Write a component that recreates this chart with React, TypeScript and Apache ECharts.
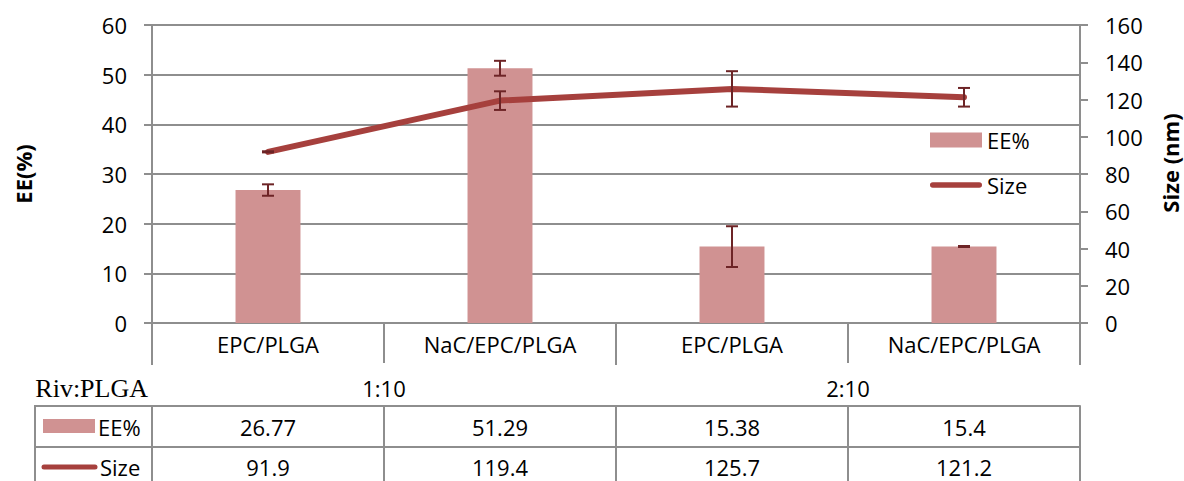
import React, { useEffect, useRef } from "react";
import * as echarts from "echarts";

const categories = ["EPC/PLGA", "NaC/EPC/PLGA", "EPC/PLGA", "NaC/EPC/PLGA"];
const groups = ["1:10", "2:10"];
const eeValues = [26.77, 51.29, 15.38, 15.4];
const eeErrors = [1.15, 1.5, 4.1, 0.1];
const sizeValues = [91.9, 119.4, 125.7, 121.2];
const sizeErrors = [0.3, 5.0, 9.5, 5.0];
const eeTableLabels = ["26.77", "51.29", "15.38", "15.4"];
const sizeTableLabels = ["91.9", "119.4", "125.7", "121.2"];

const FONT = "'Open Sans', sans-serif";
const BAR = "#d09292";
const LINE = "#a6403d";
const ERR = "#6d2426";
const GRID = "#8e8e8e";

function errorRender(params: any, api: any) {
  const i = api.value(0);
  const v = api.value(1);
  const e = api.value(2);
  const hi = api.coord([i, v + e]);
  const lo = api.coord([i, v - e]);
  const w = 6;
  const style = { stroke: ERR, lineWidth: 2 };
  return {
    type: "group",
    children: [
      { type: "line", shape: { x1: hi[0], y1: hi[1], x2: lo[0], y2: lo[1] }, style },
      { type: "line", shape: { x1: hi[0] - w, y1: hi[1], x2: hi[0] + w, y2: hi[1] }, style },
      { type: "line", shape: { x1: lo[0] - w, y1: lo[1], x2: lo[0] + w, y2: lo[1] }, style },
    ],
  };
}

export default function App() {
  const ref = useRef<HTMLDivElement>(null);
  useEffect(() => {
    if (!ref.current) return;
    const chart = echarts.init(ref.current, undefined, { renderer: "svg" });
    const axisLineStyle = { color: GRID, width: 2 };
    const labelBase = { fontSize: 22, color: "#000", fontFamily: FONT };
    chart.setOption({
      animation: false,
      backgroundColor: "#fff",
      grid: { left: 152, right: 104, top: 25, bottom: 158, containLabel: false, outerBoundsMode: "none" },
      legend: {
        data: [
          { name: "EE%", icon: "rect" },
          { name: "Size", icon: "path://M3,0 H53 A3,3 0 0 1 53,6 H3 A3,3 0 0 1 3,0 Z" },
        ],
        orient: "vertical",
        left: 925,
        top: 124,
        itemWidth: 52,
        itemHeight: 15,
        itemGap: 23,
        itemTextGap: 5,
        textStyle: { ...labelBase },
      },
      xAxis: [
        {
          type: "category",
          data: categories,
          position: "bottom",
          axisLine: { show: true, lineStyle: axisLineStyle },
          axisTick: { show: true, interval: 0, length: 40, lineStyle: axisLineStyle },
          axisLabel: { ...labelBase, interval: 0, margin: 10 },
          splitLine: { show: false },
        },
        {
          type: "category",
          data: groups,
          position: "bottom",
          offset: 41,
          axisLine: { show: false },
          axisTick: { show: true, interval: 0, length: 42, lineStyle: axisLineStyle },
          axisLabel: { ...labelBase, interval: 0, margin: 13 },
          splitLine: { show: false },
        },
        {
          type: "category",
          data: eeTableLabels,
          position: "bottom",
          offset: 83,
          axisLine: { show: true, lineStyle: axisLineStyle },
          axisTick: { show: true, interval: 0, length: 41, lineStyle: axisLineStyle },
          axisLabel: { ...labelBase, interval: 0, margin: 10 },
          splitLine: { show: false },
        },
        {
          type: "category",
          data: sizeTableLabels,
          position: "bottom",
          offset: 124,
          axisLine: { show: true, lineStyle: axisLineStyle },
          axisTick: { show: true, interval: 0, length: 45, lineStyle: axisLineStyle },
          axisLabel: { ...labelBase, interval: 0, margin: 9 },
          splitLine: { show: false },
        },
      ],
      yAxis: [
        {
          type: "value",
          min: 0,
          max: 60,
          interval: 10,
          position: "left",
          name: "EE(%)",
          nameLocation: "middle",
          nameGap: 118,
          nameTextStyle: { ...labelBase, fontWeight: "bold" },
          axisLine: { show: true, lineStyle: axisLineStyle },
          axisTick: { show: true, length: 8, lineStyle: axisLineStyle },
          axisLabel: { ...labelBase, margin: 25 },
          splitLine: { show: true, lineStyle: { color: GRID, width: 2 } },
        },
        {
          type: "value",
          min: 0,
          max: 160,
          interval: 20,
          position: "right",
          name: "Size (nm)",
          nameLocation: "middle",
          nameGap: 79,
          nameTextStyle: { ...labelBase, fontWeight: "bold", padding: [0, 0, 0, 22] },
          axisLine: { show: true, lineStyle: axisLineStyle },
          axisTick: { show: true, length: 8, lineStyle: axisLineStyle },
          axisLabel: { ...labelBase, margin: 25 },
          splitLine: { show: false },
        },
      ],
      series: [
        {
          name: "EE%",
          type: "bar",
          data: eeValues,
          xAxisIndex: 0,
          yAxisIndex: 0,
          barWidth: "28%",
          itemStyle: { color: BAR },
          z: 2,
        },
        {
          name: "EE err",
          type: "custom",
          xAxisIndex: 0,
          yAxisIndex: 0,
          renderItem: errorRender,
          encode: { x: 0, y: 1 },
          data: eeValues.map((v, i) => [i, v, eeErrors[i]]),
          z: 5,
        },
        {
          name: "Size",
          type: "line",
          data: sizeValues,
          xAxisIndex: 0,
          yAxisIndex: 1,
          symbol: "none",
          lineStyle: { color: LINE, width: 6, cap: "round", join: "round" },
          itemStyle: { color: LINE },
          z: 6,
        },
        {
          name: "Size err",
          type: "custom",
          xAxisIndex: 0,
          yAxisIndex: 1,
          renderItem: errorRender,
          encode: { x: 0, y: 1 },
          data: sizeValues.map((v, i) => [i, v, sizeErrors[i]]),
          z: 7,
        },
      ],
      graphic: [
        { type: "line", shape: { x1: 35, y1: 406, x2: 152, y2: 406 }, style: { stroke: GRID, lineWidth: 2 } },
        { type: "line", shape: { x1: 35, y1: 447, x2: 152, y2: 447 }, style: { stroke: GRID, lineWidth: 2 } },
        { type: "line", shape: { x1: 35, y1: 405, x2: 35, y2: 481 }, style: { stroke: GRID, lineWidth: 2 } },
        { type: "rect", shape: { x: 43, y: 419, width: 52, height: 14 }, style: { fill: BAR } },
        {
          type: "line",
          shape: { x1: 44, y1: 467, x2: 95, y2: 467 },
          style: { stroke: LINE, lineWidth: 5, lineCap: "round" },
        },
        {
          type: "text",
          x: 98,
          y: 427,
          style: { text: "EE%", fontSize: 22, fontFamily: FONT, fill: "#000", verticalAlign: "middle", textVerticalAlign: "middle" },
        },
        {
          type: "text",
          x: 100,
          y: 467,
          style: { text: "Size", fontSize: 22, fontFamily: FONT, fill: "#000", verticalAlign: "middle", textVerticalAlign: "middle" },
        },
        {
          type: "text",
          x: 148,
          y: 388,
          style: {
            text: "Riv:PLGA",
            fontSize: 26,
            fontFamily: "'Liberation Serif', 'Times New Roman', serif",
            fill: "#000",
            align: "right",
            textAlign: "right",
            verticalAlign: "middle",
            textVerticalAlign: "middle",
          },
        },
      ],
    });
    return () => chart.dispose();
  }, []);
  return (
    <div
      ref={ref}
      style={{ position: "fixed", left: 0, top: 0, width: 1184, height: 481, background: "#fff" }}
    />
  );
}
